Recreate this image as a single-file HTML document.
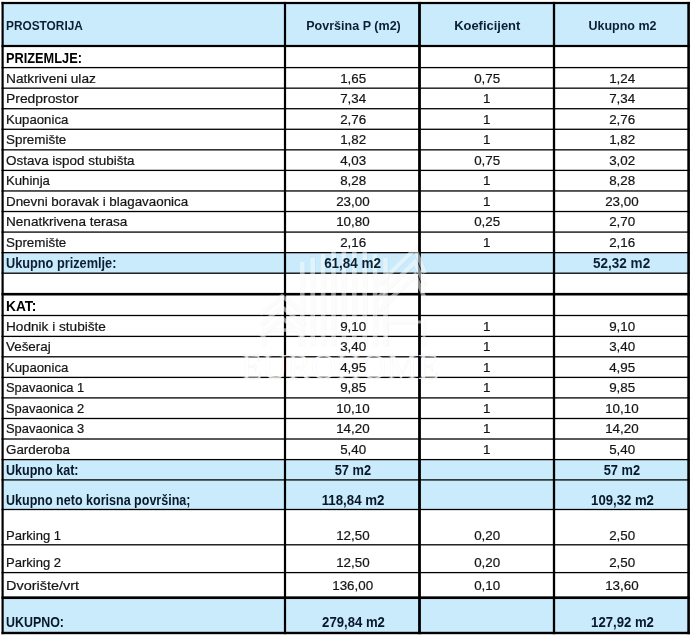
<!DOCTYPE html>
<html><head><meta charset="utf-8"><title>Tablica površina</title>
<style>
html,body{margin:0;padding:0;background:#fff;overflow:hidden;}
body{width:691px;height:636px;position:relative;overflow:hidden;font-family:"Liberation Sans",sans-serif;}
.f{position:absolute;background:#c9ebfb;}
svg{position:absolute;left:0;top:0;}
.t{position:absolute;white-space:nowrap;line-height:1;will-change:transform;}
.t span{display:inline-block;transform-origin:0 50%;}
.t.c span{transform-origin:50% 50%;}
.h{font-size:13.4px;font-weight:bold;color:#0d2032;}
.nb{font-size:14.0px;font-weight:bold;color:#0d2032;}
.cb{font-size:14.0px;font-weight:bold;color:#000;}
.cb2{font-size:14.0px;font-weight:bold;color:#08182a;}
.r{font-size:13.5px;font-weight:normal;color:#151515;}
.r{-webkit-text-stroke:0.22px #151515;}
</style></head><body>
<div class="f" style="left:3px;top:3px;width:685px;height:43px"></div>
<div class="f" style="left:3px;top:252.6px;width:685px;height:20.599999999999994px"></div>
<div class="f" style="left:3px;top:459.6px;width:685px;height:49.89999999999998px"></div>
<div class="f" style="left:3px;top:598px;width:685px;height:35px"></div>
<svg width="691" height="636" viewBox="0 0 691 636">
<rect x="1.5" y="1.90" width="688.4" height="2.20" fill="#000"/>
<rect x="1.5" y="44.90" width="688.4" height="2.20" fill="#000"/>
<rect x="1.5" y="66.95" width="688.4" height="1.30" fill="#000"/>
<rect x="1.5" y="87.51" width="688.4" height="1.30" fill="#000"/>
<rect x="1.5" y="108.07" width="688.4" height="1.30" fill="#000"/>
<rect x="1.5" y="128.63" width="688.4" height="1.30" fill="#000"/>
<rect x="1.5" y="149.19" width="688.4" height="1.30" fill="#000"/>
<rect x="1.5" y="169.75" width="688.4" height="1.30" fill="#000"/>
<rect x="1.5" y="190.31" width="688.4" height="1.30" fill="#000"/>
<rect x="1.5" y="210.87" width="688.4" height="1.30" fill="#000"/>
<rect x="1.5" y="231.43" width="688.4" height="1.30" fill="#000"/>
<rect x="1.5" y="251.99" width="688.4" height="1.30" fill="#000"/>
<rect x="1.5" y="272.55" width="688.4" height="1.30" fill="#000"/>
<rect x="1.5" y="292.90" width="688.4" height="2.60" fill="#000"/>
<rect x="1.5" y="314.85" width="688.4" height="1.30" fill="#000"/>
<rect x="1.5" y="335.75" width="688.4" height="1.30" fill="#000"/>
<rect x="1.5" y="356.15" width="688.4" height="1.30" fill="#000"/>
<rect x="1.5" y="376.75" width="688.4" height="1.30" fill="#000"/>
<rect x="1.5" y="397.25" width="688.4" height="1.30" fill="#000"/>
<rect x="1.5" y="417.85" width="688.4" height="1.30" fill="#000"/>
<rect x="1.5" y="438.35" width="688.4" height="1.30" fill="#000"/>
<rect x="1.5" y="458.95" width="688.4" height="1.30" fill="#000"/>
<rect x="1.5" y="479.25" width="688.4" height="1.30" fill="#000"/>
<rect x="1.5" y="508.85" width="688.4" height="1.30" fill="#000"/>
<rect x="1.5" y="544.15" width="688.4" height="1.30" fill="#000"/>
<rect x="1.5" y="571.95" width="688.4" height="1.30" fill="#000"/>
<rect x="1.5" y="596.35" width="688.4" height="2.70" fill="#000"/>
<rect x="1.5" y="631.80" width="688.4" height="2.40" fill="#000"/>
<rect x="1.50" y="1.9" width="2.20" height="632.3" fill="#000"/>
<rect x="283.90" y="1.9" width="2.20" height="632.3" fill="#000"/>
<rect x="418.10" y="1.9" width="2.80" height="632.3" fill="#000"/>
<rect x="552.85" y="1.9" width="2.30" height="632.3" fill="#000"/>
<rect x="687.30" y="1.9" width="2.60" height="632.3" fill="#000"/>
</svg>
<svg width="691" height="636" viewBox="0 0 691 636" style="pointer-events:none">
<g transform="translate(0.5,0.5)" fill="none" stroke="#7f8a92" stroke-opacity="0.05" stroke-linecap="butt" stroke-linejoin="miter">
<line x1="302.3" y1="262" x2="302.3" y2="346" stroke-width="5.6"/>
<line x1="312.7" y1="258" x2="312.7" y2="346" stroke-width="5.6"/>
<line x1="323.1" y1="254" x2="323.1" y2="346" stroke-width="5.6"/>
<line x1="333.5" y1="251" x2="333.5" y2="346" stroke-width="5.6"/>
<line x1="343.90000000000003" y1="249" x2="343.90000000000003" y2="346" stroke-width="5.6"/>
<line x1="354.3" y1="249" x2="354.3" y2="346" stroke-width="5.6"/>
<line x1="364.70000000000005" y1="251" x2="364.70000000000005" y2="346" stroke-width="5.6"/>
<line x1="375.1" y1="254" x2="375.1" y2="346" stroke-width="5.6"/>
<line x1="385.5" y1="258" x2="385.5" y2="346" stroke-width="5.6"/>
<polyline points="260,314 282,296 304,314" stroke-width="5.0"/>
<polyline points="260,325 282,307 304,325" stroke-width="5.0"/>
<polyline points="260,336 282,318 304,336" stroke-width="5.0"/>
<polyline points="264,346 264,330 300,330 300,346" stroke-width="4.5"/>
<polyline points="378,285 415,249 425,273" stroke-width="5.2"/>
<polyline points="378,298 415,262 425,286" stroke-width="5.2"/>
<polyline points="378,311 415,275 425,299" stroke-width="5.2"/>
<polyline points="386,346 386,322 424,322 424,346" stroke-width="4.2"/>
</g>
<g transform="translate(0,0)" fill="none" stroke="#ffffff" stroke-opacity="0.5" stroke-linecap="butt" stroke-linejoin="miter">
<line x1="302.3" y1="262" x2="302.3" y2="346" stroke-width="4.6"/>
<line x1="312.7" y1="258" x2="312.7" y2="346" stroke-width="4.6"/>
<line x1="323.1" y1="254" x2="323.1" y2="346" stroke-width="4.6"/>
<line x1="333.5" y1="251" x2="333.5" y2="346" stroke-width="4.6"/>
<line x1="343.90000000000003" y1="249" x2="343.90000000000003" y2="346" stroke-width="4.6"/>
<line x1="354.3" y1="249" x2="354.3" y2="346" stroke-width="4.6"/>
<line x1="364.70000000000005" y1="251" x2="364.70000000000005" y2="346" stroke-width="4.6"/>
<line x1="375.1" y1="254" x2="375.1" y2="346" stroke-width="4.6"/>
<line x1="385.5" y1="258" x2="385.5" y2="346" stroke-width="4.6"/>
<polyline points="260,314 282,296 304,314" stroke-width="4"/>
<polyline points="260,325 282,307 304,325" stroke-width="4"/>
<polyline points="260,336 282,318 304,336" stroke-width="4"/>
<polyline points="264,346 264,330 300,330 300,346" stroke-width="3.5"/>
<polyline points="378,285 415,249 425,273" stroke-width="4.2"/>
<polyline points="378,298 415,262 425,286" stroke-width="4.2"/>
<polyline points="378,311 415,275 425,299" stroke-width="4.2"/>
<polyline points="386,346 386,322 424,322 424,346" stroke-width="3.2"/>
</g>
<text x="340" y="378.5" text-anchor="middle" font-family="Liberation Serif, serif" font-size="35.5" textLength="198" lengthAdjust="spacingAndGlyphs" fill="#ffffff" fill-opacity="0.78" stroke="#6f7a82" stroke-opacity="0.07" stroke-width="0.9">EUROHOME</text>
</svg>
<div class="t h" style="left:5.9px;top:18.97px"><span style="transform:scaleX(0.8852)">PROSTORIJA</span></div>
<div class="t c h" style="left:289.0px;width:128px;text-align:center;top:18.97px"><span style="transform:scaleX(0.9373)">Površina P (m2)</span></div>
<div class="t c h" style="left:423.3px;width:128px;text-align:center;top:18.97px"><span style="transform:scaleX(0.9664)">Koeficijent</span></div>
<div class="t c h" style="left:557.7px;width:128px;text-align:center;top:18.97px"><span style="transform:scaleX(0.9334)">Ukupno m2</span></div>
<div class="t cb" style="left:5.9px;top:50.87px"><span style="transform:scaleX(0.9119)">PRIZEMLJE:</span></div>
<div class="t r" style="left:5.9px;top:71.69px"><span style="transform:scaleX(1.0154)">Natkriveni ulaz</span></div>
<div class="t c r" style="left:289.0px;width:128px;text-align:center;top:71.69px"><span style="transform:scaleX(0.9900)">1,65</span></div>
<div class="t c r" style="left:423.3px;width:128px;text-align:center;top:71.69px"><span style="transform:scaleX(0.9900)">0,75</span></div>
<div class="t c r" style="left:557.7px;width:128px;text-align:center;top:71.69px"><span style="transform:scaleX(0.9900)">1,24</span></div>
<div class="t r" style="left:5.9px;top:92.19px"><span style="transform:scaleX(1.0279)">Predprostor</span></div>
<div class="t c r" style="left:289.0px;width:128px;text-align:center;top:92.19px"><span style="transform:scaleX(0.9900)">7,34</span></div>
<div class="t c r" style="left:423.3px;width:128px;text-align:center;top:92.19px"><span style="transform:scaleX(0.9900)">1</span></div>
<div class="t c r" style="left:557.7px;width:128px;text-align:center;top:92.19px"><span style="transform:scaleX(0.9900)">7,34</span></div>
<div class="t r" style="left:5.9px;top:112.69px"><span style="transform:scaleX(0.9765)">Kupaonica</span></div>
<div class="t c r" style="left:289.0px;width:128px;text-align:center;top:112.69px"><span style="transform:scaleX(0.9900)">2,76</span></div>
<div class="t c r" style="left:423.3px;width:128px;text-align:center;top:112.69px"><span style="transform:scaleX(0.9900)">1</span></div>
<div class="t c r" style="left:557.7px;width:128px;text-align:center;top:112.69px"><span style="transform:scaleX(0.9900)">2,76</span></div>
<div class="t r" style="left:5.9px;top:133.19px"><span style="transform:scaleX(0.9923)">Spremište</span></div>
<div class="t c r" style="left:289.0px;width:128px;text-align:center;top:133.19px"><span style="transform:scaleX(0.9900)">1,82</span></div>
<div class="t c r" style="left:423.3px;width:128px;text-align:center;top:133.19px"><span style="transform:scaleX(0.9900)">1</span></div>
<div class="t c r" style="left:557.7px;width:128px;text-align:center;top:133.19px"><span style="transform:scaleX(0.9900)">1,82</span></div>
<div class="t r" style="left:5.9px;top:153.69px"><span style="transform:scaleX(0.9964)">Ostava ispod stubišta</span></div>
<div class="t c r" style="left:289.0px;width:128px;text-align:center;top:153.69px"><span style="transform:scaleX(0.9900)">4,03</span></div>
<div class="t c r" style="left:423.3px;width:128px;text-align:center;top:153.69px"><span style="transform:scaleX(0.9900)">0,75</span></div>
<div class="t c r" style="left:557.7px;width:128px;text-align:center;top:153.69px"><span style="transform:scaleX(0.9900)">3,02</span></div>
<div class="t r" style="left:5.9px;top:174.19px"><span style="transform:scaleX(0.9748)">Kuhinja</span></div>
<div class="t c r" style="left:289.0px;width:128px;text-align:center;top:174.19px"><span style="transform:scaleX(0.9900)">8,28</span></div>
<div class="t c r" style="left:423.3px;width:128px;text-align:center;top:174.19px"><span style="transform:scaleX(0.9900)">1</span></div>
<div class="t c r" style="left:557.7px;width:128px;text-align:center;top:174.19px"><span style="transform:scaleX(0.9900)">8,28</span></div>
<div class="t r" style="left:5.9px;top:194.69px"><span style="transform:scaleX(0.9909)">Dnevni boravak i blagavaonica</span></div>
<div class="t c r" style="left:289.0px;width:128px;text-align:center;top:194.69px"><span style="transform:scaleX(0.9900)">23,00</span></div>
<div class="t c r" style="left:423.3px;width:128px;text-align:center;top:194.69px"><span style="transform:scaleX(0.9900)">1</span></div>
<div class="t c r" style="left:557.7px;width:128px;text-align:center;top:194.69px"><span style="transform:scaleX(0.9900)">23,00</span></div>
<div class="t r" style="left:5.9px;top:215.19px"><span style="transform:scaleX(1.0048)">Nenatkrivena terasa</span></div>
<div class="t c r" style="left:289.0px;width:128px;text-align:center;top:215.19px"><span style="transform:scaleX(0.9900)">10,80</span></div>
<div class="t c r" style="left:423.3px;width:128px;text-align:center;top:215.19px"><span style="transform:scaleX(0.9900)">0,25</span></div>
<div class="t c r" style="left:557.7px;width:128px;text-align:center;top:215.19px"><span style="transform:scaleX(0.9900)">2,70</span></div>
<div class="t r" style="left:5.9px;top:235.69px"><span style="transform:scaleX(0.9923)">Spremište</span></div>
<div class="t c r" style="left:289.0px;width:128px;text-align:center;top:235.69px"><span style="transform:scaleX(0.9900)">2,16</span></div>
<div class="t c r" style="left:423.3px;width:128px;text-align:center;top:235.69px"><span style="transform:scaleX(0.9900)">1</span></div>
<div class="t c r" style="left:557.7px;width:128px;text-align:center;top:235.69px"><span style="transform:scaleX(0.9900)">2,16</span></div>
<div class="t nb" style="left:5.9px;top:256.27px"><span style="transform:scaleX(0.9098)">Ukupno prizemlje:</span></div>
<div class="t c nb" style="left:289.0px;width:128px;text-align:center;top:256.27px"><span style="transform:scaleX(0.9618)">61,84 m2</span></div>
<div class="t c nb" style="left:557.7px;width:128px;text-align:center;top:256.27px"><span style="transform:scaleX(0.9669)">52,32 m2</span></div>
<div class="t cb" style="left:5.9px;top:299.17px"><span style="transform:scaleX(0.9791)">KAT:</span></div>
<div class="t r" style="left:5.9px;top:319.99px"><span style="transform:scaleX(1.0086)">Hodnik i stubište</span></div>
<div class="t c r" style="left:289.0px;width:128px;text-align:center;top:319.99px"><span style="transform:scaleX(0.9900)">9,10</span></div>
<div class="t c r" style="left:423.3px;width:128px;text-align:center;top:319.99px"><span style="transform:scaleX(0.9900)">1</span></div>
<div class="t c r" style="left:557.7px;width:128px;text-align:center;top:319.99px"><span style="transform:scaleX(0.9900)">9,10</span></div>
<div class="t r" style="left:5.9px;top:340.49px"><span style="transform:scaleX(0.9927)">Vešeraj</span></div>
<div class="t c r" style="left:289.0px;width:128px;text-align:center;top:340.49px"><span style="transform:scaleX(0.9900)">3,40</span></div>
<div class="t c r" style="left:423.3px;width:128px;text-align:center;top:340.49px"><span style="transform:scaleX(0.9900)">1</span></div>
<div class="t c r" style="left:557.7px;width:128px;text-align:center;top:340.49px"><span style="transform:scaleX(0.9900)">3,40</span></div>
<div class="t r" style="left:5.9px;top:360.99px"><span style="transform:scaleX(0.9765)">Kupaonica</span></div>
<div class="t c r" style="left:289.0px;width:128px;text-align:center;top:360.99px"><span style="transform:scaleX(0.9900)">4,95</span></div>
<div class="t c r" style="left:423.3px;width:128px;text-align:center;top:360.99px"><span style="transform:scaleX(0.9900)">1</span></div>
<div class="t c r" style="left:557.7px;width:128px;text-align:center;top:360.99px"><span style="transform:scaleX(0.9900)">4,95</span></div>
<div class="t r" style="left:5.9px;top:381.49px"><span style="transform:scaleX(0.9571)">Spavaonica 1</span></div>
<div class="t c r" style="left:289.0px;width:128px;text-align:center;top:381.49px"><span style="transform:scaleX(0.9900)">9,85</span></div>
<div class="t c r" style="left:423.3px;width:128px;text-align:center;top:381.49px"><span style="transform:scaleX(0.9900)">1</span></div>
<div class="t c r" style="left:557.7px;width:128px;text-align:center;top:381.49px"><span style="transform:scaleX(0.9900)">9,85</span></div>
<div class="t r" style="left:5.9px;top:401.99px"><span style="transform:scaleX(0.9571)">Spavaonica 2</span></div>
<div class="t c r" style="left:289.0px;width:128px;text-align:center;top:401.99px"><span style="transform:scaleX(0.9900)">10,10</span></div>
<div class="t c r" style="left:423.3px;width:128px;text-align:center;top:401.99px"><span style="transform:scaleX(0.9900)">1</span></div>
<div class="t c r" style="left:557.7px;width:128px;text-align:center;top:401.99px"><span style="transform:scaleX(0.9900)">10,10</span></div>
<div class="t r" style="left:5.9px;top:422.49px"><span style="transform:scaleX(0.9571)">Spavaonica 3</span></div>
<div class="t c r" style="left:289.0px;width:128px;text-align:center;top:422.49px"><span style="transform:scaleX(0.9900)">14,20</span></div>
<div class="t c r" style="left:423.3px;width:128px;text-align:center;top:422.49px"><span style="transform:scaleX(0.9900)">1</span></div>
<div class="t c r" style="left:557.7px;width:128px;text-align:center;top:422.49px"><span style="transform:scaleX(0.9900)">14,20</span></div>
<div class="t r" style="left:5.9px;top:442.99px"><span style="transform:scaleX(0.9885)">Garderoba</span></div>
<div class="t c r" style="left:289.0px;width:128px;text-align:center;top:442.99px"><span style="transform:scaleX(0.9900)">5,40</span></div>
<div class="t c r" style="left:423.3px;width:128px;text-align:center;top:442.99px"><span style="transform:scaleX(0.9900)">1</span></div>
<div class="t c r" style="left:557.7px;width:128px;text-align:center;top:442.99px"><span style="transform:scaleX(0.9900)">5,40</span></div>
<div class="t cb2" style="left:5.9px;top:462.97px"><span style="transform:scaleX(0.8963)">Ukupno kat:</span></div>
<div class="t c cb2" style="left:289.0px;width:128px;text-align:center;top:462.97px"><span style="transform:scaleX(0.9150)">57 m2</span></div>
<div class="t c cb2" style="left:557.7px;width:128px;text-align:center;top:462.97px"><span style="transform:scaleX(0.9150)">57 m2</span></div>
<div class="t cb2" style="left:5.9px;top:492.87px"><span style="transform:scaleX(0.8950)">Ukupno neto korisna površina;</span></div>
<div class="t c cb2" style="left:289.0px;width:128px;text-align:center;top:492.87px"><span style="transform:scaleX(0.9490)">118,84 m2</span></div>
<div class="t c cb2" style="left:557.7px;width:128px;text-align:center;top:492.87px"><span style="transform:scaleX(0.9381)">109,32 m2</span></div>
<div class="t r" style="left:5.9px;top:528.89px"><span style="transform:scaleX(0.9661)">Parking 1</span></div>
<div class="t c r" style="left:289.0px;width:128px;text-align:center;top:528.89px"><span style="transform:scaleX(0.9900)">12,50</span></div>
<div class="t c r" style="left:423.3px;width:128px;text-align:center;top:528.89px"><span style="transform:scaleX(0.9900)">0,20</span></div>
<div class="t c r" style="left:557.7px;width:128px;text-align:center;top:528.89px"><span style="transform:scaleX(0.9900)">2,50</span></div>
<div class="t r" style="left:5.9px;top:555.79px"><span style="transform:scaleX(0.9661)">Parking 2</span></div>
<div class="t c r" style="left:289.0px;width:128px;text-align:center;top:555.79px"><span style="transform:scaleX(0.9900)">12,50</span></div>
<div class="t c r" style="left:423.3px;width:128px;text-align:center;top:555.79px"><span style="transform:scaleX(0.9900)">0,20</span></div>
<div class="t c r" style="left:557.7px;width:128px;text-align:center;top:555.79px"><span style="transform:scaleX(0.9900)">2,50</span></div>
<div class="t r" style="left:5.9px;top:579.49px"><span style="transform:scaleX(1.0695)">Dvorište/vrt</span></div>
<div class="t c r" style="left:289.0px;width:128px;text-align:center;top:579.49px"><span style="transform:scaleX(0.9900)">136,00</span></div>
<div class="t c r" style="left:423.3px;width:128px;text-align:center;top:579.49px"><span style="transform:scaleX(0.9900)">0,10</span></div>
<div class="t c r" style="left:557.7px;width:128px;text-align:center;top:579.49px"><span style="transform:scaleX(0.9900)">13,60</span></div>
<div class="t cb2" style="left:5.9px;top:614.97px"><span style="transform:scaleX(0.8878)">UKUPNO:</span></div>
<div class="t c cb2" style="left:289.0px;width:128px;text-align:center;top:614.97px"><span style="transform:scaleX(0.9381)">279,84 m2</span></div>
<div class="t c cb2" style="left:557.7px;width:128px;text-align:center;top:614.97px"><span style="transform:scaleX(0.9381)">127,92 m2</span></div>
</body></html>
